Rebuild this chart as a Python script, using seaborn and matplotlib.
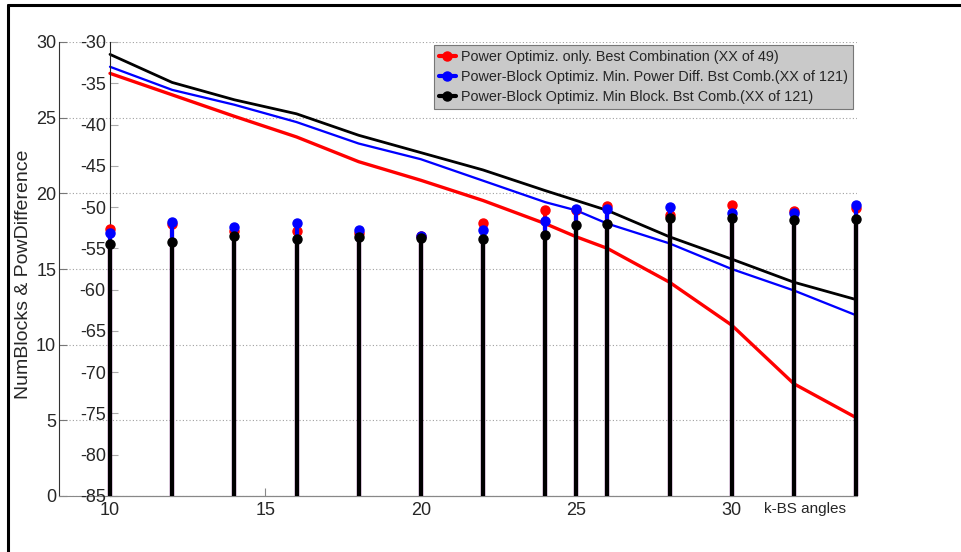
import numpy as np
import matplotlib
matplotlib.use("Agg")
import matplotlib.pyplot as plt
from matplotlib.lines import Line2D
from matplotlib.legend_handler import HandlerLine2D
import seaborn as sns

# k-BS angles
angles = [10, 12, 14, 16, 18, 20, 22, 24, 25, 26, 28, 30, 32, 34]

# Power difference curves (inner axis, dB)
pow_red = [-33.8, -36.4, -39.0, -41.5, -44.5, -46.75, -49.2, -52.0, -53.6, -55.0, -59.1, -64.3, -71.4, -75.5]
pow_blue = [-33.0, -35.8, -37.6, -39.7, -42.3, -44.2, -46.8, -49.4, -50.4, -52.0, -54.4, -57.5, -60.1, -63.1]
pow_black = [-31.5, -34.9, -37.0, -38.7, -41.3, -43.4, -45.5, -48.0, -49.2, -50.4, -53.6, -56.3, -59.1, -61.2]

# Number of blocks (outer axis, stems)
blk_red = [17.66, 18.0, 17.5, 17.5, 17.37, 17.2, 18.03, 18.9, 18.9, 19.14, 18.6, 19.2, 18.83, 19.05]
blk_blue = [17.37, 18.1, 17.77, 18.03, 17.6, 17.2, 17.55, 18.2, 18.94, 18.98, 19.1, 18.7, 18.72, 19.2]
blk_black = [16.67, 16.78, 17.2, 16.95, 17.1, 17.06, 16.95, 17.26, 17.88, 17.99, 18.4, 18.37, 18.26, 18.28]

legend_labels = [
    "Power Optimiz. only. Best Combination (XX of 49)",
    "Power-Block Optimiz. Min. Power Diff. Bst Comb.(XX of 121)",
    "Power-Block Optimiz. Min Block. Bst Comb.(XX of 121)",
]
series_colors = ["#ff0000", "#0000ff", "#000000"]

outer_ticks = [0, 5, 10, 15, 20, 25, 30]
inner_ticks = [-30, -35, -40, -45, -50, -55, -60, -65, -70, -75, -80, -85]
x_ticks = [10, 15, 20, 25, 30]

sns.set_style("white")
plt.rcParams["font.family"] = ["Liberation Sans", "DejaVu Sans"]
plt.rcParams["axes.unicode_minus"] = False

W, H = 961, 552
fig = plt.figure(figsize=(W / 100, H / 100), dpi=100)
fig.patch.set_facecolor("white")


def fbox(x0, y0, x1, y1):
    return [x0 / W, 1 - y1 / H, (x1 - x0) / W, (y1 - y0) / H]


tick_col = "#777777"

# Outer axis: block counts, with the dotted grid
ax_bg = fig.add_axes(fbox(59, 42, 857, 496))
ax_bg.set_ylim(0, 30)
ax_bg.set_yticks(outer_ticks)
ax_bg.set_xticks([])
ax_bg.grid(axis="y", color="#a0a0a0", linestyle=(0, (1, 2)), linewidth=0.8)
ax_bg.grid(axis="x", visible=False)
for s in ["top", "right"]:
    ax_bg.spines[s].set_visible(False)
ax_bg.spines["left"].set_color("#333333")
ax_bg.spines["bottom"].set_color("#888888")
ax_bg.tick_params(axis="y", direction="in", length=6, width=0.8, color=tick_col,
                  labelsize=13, pad=2, left=True)

# Inner axis: power difference
ax_in = fig.add_axes(fbox(110, 42, 856, 496))
ax_in.patch.set_visible(False)
ax_in.set_xlim(10, 34)
ax_in.set_ylim(-85, -30)
ax_in.set_yticks(inner_ticks)
ax_in.set_xticks(x_ticks)
for s in ["top", "right"]:
    ax_in.spines[s].set_visible(False)
ax_in.spines["left"].set_color("#222222")
ax_in.spines["bottom"].set_color("#888888")
ax_in.tick_params(axis="y", direction="in", length=6, width=0.8, color="#aaaaaa",
                  labelsize=13, pad=3, left=True)
ax_in.tick_params(axis="x", direction="in", length=6, width=0.8, color="#888888",
                  labelsize=13, pad=4, bottom=True)

for vals, col, lw in [(pow_red, series_colors[0], 2.4),
                      (pow_blue, series_colors[1], 1.65),
                      (pow_black, series_colors[2], 2.0)]:
    sns.lineplot(x=angles, y=vals, ax=ax_in, color=col, linewidth=lw,
                 legend=False, clip_on=False)

# Stems share the x scale of the inner axis, drawn on the block-count scale
ax_st = ax_in.twinx()
ax_st.set_ylim(0, 30)
ax_st.set_yticks([])
for s in ax_st.spines.values():
    s.set_visible(False)

for vals, col in zip([blk_red, blk_blue, blk_black], series_colors):
    markerline, stemlines, baseline = ax_st.stem(angles, vals, basefmt=" ")
    stemlines.set_color(col)
    stemlines.set_linewidth(3.0)
    stemlines.set_clip_on(False)
    markerline.set_color(col)
    markerline.set_marker("o")
    markerline.set_markersize(6.5)
    markerline.set_clip_on(False)
    baseline.set_visible(False)


class StemHandler(HandlerLine2D):
    def get_xdata(self, legend, xdescent, ydescent, width, height, fontsize):
        xdata = np.array([-xdescent, -xdescent + width])
        return xdata, np.array([-xdescent + width * 0.85])


handles = [Line2D([], [], color=c, lw=3.0, marker="o", markersize=6.5)
           for c in series_colors]
leg = ax_st.legend(handles, legend_labels, loc="upper right",
                   bbox_to_anchor=(853 / W, 1 - 45 / H),
                   bbox_transform=fig.transFigure, borderaxespad=0,
                   fontsize=10.4, frameon=True, fancybox=False, framealpha=1,
                   facecolor="#c9c9c9", edgecolor="#777777",
                   handlelength=1.2, handletextpad=0.35, labelspacing=0.4,
                   borderpad=0.35, numpoints=1,
                   handler_map={Line2D: StemHandler()})
leg.get_frame().set_linewidth(0.8)

fig.text(764 / W, 1 - 509 / H, "k-BS angles", ha="left", va="center", fontsize=11)
fig.text(24 / W, 1 - 274 / H, "NumBlocks & PowDifference", rotation=90,
         ha="center", va="center", fontsize=14)

# Frame lines along the top and left edges
fig.add_artist(Line2D([8 / W, 1.0], [1 - 5 / H, 1 - 5 / H], transform=fig.transFigure,
                      color="black", linewidth=2.2))
fig.add_artist(Line2D([8 / W, 8 / W], [0.0, 1 - 5 / H], transform=fig.transFigure,
                      color="black", linewidth=2.2))

fig.savefig("out.png", dpi=100)
